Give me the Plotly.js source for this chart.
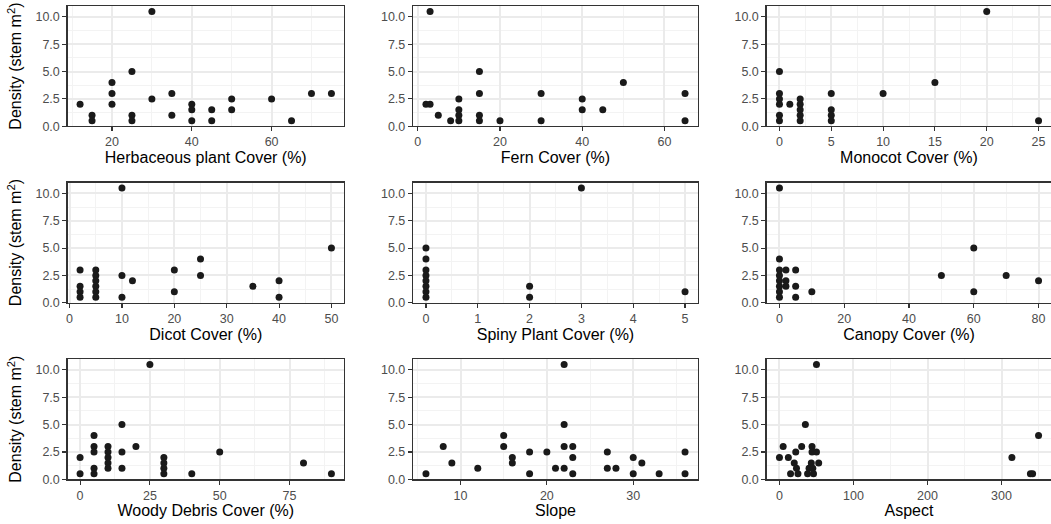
<!DOCTYPE html>
<html><head><meta charset="utf-8">
<script src="https://cdn.plot.ly/plotly-3.0.1.min.js"></script>
<style>html,body{margin:0;padding:0;overflow:hidden;background:#fff}#chart{width:1060px;height:524px}</style>
</head><body><div id="chart"></div><script>
// Data (Density in stem m^2)
const herbCover   = [12, 15, 15, 20, 20, 20, 25, 25, 25, 30, 30, 35, 35, 40, 40, 40, 45, 45, 50, 50, 60, 65, 70, 75];
const herbDensity = [2, 1, 0.5, 4, 3, 2, 5, 1, 0.5, 10.5, 2.5, 3, 1, 2, 1.5, 0.5, 1.5, 0.5, 2.5, 1.5, 2.5, 0.5, 3, 3];

const fernCover   = [2, 3, 3, 5, 8, 10, 10, 10, 10, 15, 15, 15, 15, 20, 30, 30, 40, 40, 45, 50, 65, 65];
const fernDensity = [2, 2, 10.5, 1, 0.5, 2.5, 1.5, 1, 0.5, 5, 3, 1, 0.5, 0.5, 3, 0.5, 2.5, 1.5, 1.5, 4, 3, 0.5];

const monoCover   = [0, 0, 0, 0, 0, 0, 1, 2, 2, 2, 2, 2, 5, 5, 5, 5, 10, 15, 20, 25];
const monoDensity = [5, 3, 2.5, 2, 1, 0.5, 2, 2.5, 2, 1.5, 1, 0.5, 3, 1.5, 1, 0.5, 3, 4, 10.5, 0.5];

const dicotCover   = [2, 2, 2, 2, 5, 5, 5, 5, 5, 5, 10, 10, 10, 12, 20, 20, 25, 25, 35, 40, 40, 50];
const dicotDensity = [3, 1.5, 1, 0.5, 3, 2.5, 2, 1.5, 1, 0.5, 10.5, 2.5, 0.5, 2, 3, 1, 4, 2.5, 1.5, 2, 0.5, 5];

const spinyCover   = [0, 0, 0, 0, 0, 0, 0, 0, 2, 2, 3, 5];
const spinyDensity = [5, 4, 3, 2.5, 2, 1.5, 1, 0.5, 1.5, 0.5, 10.5, 1];

const canopyCover   = [0, 0, 0, 0, 0, 0, 0, 0, 2, 2, 2, 5, 5, 5, 10, 50, 60, 60, 70, 80];
const canopyDensity = [10.5, 4, 3, 2.5, 2, 1.5, 1, 0.5, 3, 2, 1.5, 3, 1.5, 0.5, 1, 2.5, 5, 1, 2.5, 2];

const woodyCover   = [0, 0, 5, 5, 5, 5, 5, 10, 10, 10, 10, 10, 15, 15, 15, 20, 25, 30, 30, 30, 30, 40, 50, 80, 90];
const woodyDensity = [2, 0.5, 4, 3, 2.5, 1, 0.5, 3, 2.5, 2, 1.5, 1, 5, 2.5, 1, 3, 10.5, 2, 1.5, 1, 0.5, 0.5, 2.5, 1.5, 0.5];

const slopeValue   = [6, 8, 9, 12, 15, 15, 16, 16, 18, 18, 20, 21, 22, 22, 22, 22, 23, 23, 23, 27, 27, 28, 30, 30, 31, 33, 36, 36];
const slopeDensity = [0.5, 3, 1.5, 1, 4, 3, 2, 1.5, 2.5, 0.5, 2.5, 1, 10.5, 5, 3, 1, 3, 2, 0.5, 2.5, 1, 1, 2, 0.5, 1.5, 0.5, 2.5, 0.5];

const aspectValue   = [0, 5, 12, 15, 20, 22, 23, 25, 30, 35, 38, 40, 43, 44, 44, 45, 46, 50, 50, 53, 314, 339, 342, 350];
const aspectDensity = [2, 3, 2, 0.5, 1.5, 2.5, 1, 0.5, 3, 5, 0.5, 1, 1.5, 3, 2.5, 1, 0.5, 2.5, 10.5, 1.5, 2, 0.5, 0.5, 4];

const xTitles = ['Herbaceous plant Cover (%)', 'Fern Cover (%)', 'Monocot Cover (%)',
                 'Dicot Cover (%)', 'Spiny Plant Cover (%)', 'Canopy Cover (%)',
                 'Woody Debris Cover (%)', 'Slope', 'Aspect'];
const xSeries = [herbCover, fernCover, monoCover, dicotCover, spinyCover, canopyCover, woodyCover, slopeValue, aspectValue];
const ySeries = [herbDensity, fernDensity, monoDensity, dicotDensity, spinyDensity, canopyDensity, woodyDensity, slopeDensity, aspectDensity];
const xBreaks = [20, 20, 5, 10, 1, 20, 25, 10, 100];
const yTitle = 'Density (stem m<sup>2</sup>)';

// Layout geometry (pixels)
const W = 1060, H = 524;
const colPx = [[67.5, 344], [413, 698], [766.5, 1051.5]];
const rowPx = [[6, 126.2], [182.5, 302.7], [359, 479.3]];

function expand(arr) {
  const mn = Math.min(...arr), mx = Math.max(...arr);
  const pad = (mx - mn) * 0.05;
  return [mn - pad, mx + pad];
}

const tickFont = {family: 'Liberation Sans, Arial, sans-serif', size: 12.5, color: '#4D4D4D'};
const titleFont = {family: 'Liberation Sans, Arial, sans-serif', size: 16, color: '#000000'};

const traces = [];
const layout = {
  width: W, height: H,
  margin: {l: 0, r: 0, t: 0, b: 0},
  paper_bgcolor: '#FFFFFF', plot_bgcolor: '#FFFFFF',
  showlegend: false
};

for (let i = 0; i < 9; i++) {
  const r = Math.floor(i / 3), c = i % 3;
  const sfx = i === 0 ? '' : String(i + 1);
  traces.push({
    type: 'scatter', mode: 'markers',
    x: xSeries[i], y: ySeries[i],
    xaxis: 'x' + sfx, yaxis: 'y' + sfx,
    marker: {size: 7, color: '#1A1A1A'},
    hoverinfo: 'skip'
  });
  const common = {
    showline: true, mirror: true, linecolor: '#333333', linewidth: 1.2,
    ticks: 'outside', ticklen: 4, tickwidth: 1.1, tickcolor: '#333333',
    tickfont: tickFont, zeroline: false,
    showgrid: true, gridcolor: '#EBEBEB', gridwidth: 2,
    fixedrange: true
  };
  layout['xaxis' + sfx] = Object.assign({}, common, {
    domain: [colPx[c][0] / W, colPx[c][1] / W],
    anchor: 'y' + sfx,
    range: expand(xSeries[i]),
    tick0: 0, dtick: xBreaks[i],
    minor: {dtick: xBreaks[i] / 2, showgrid: true, gridcolor: '#F3F3F3', gridwidth: 1, ticks: ''},
    title: {text: xTitles[i], font: titleFont, standoff: 3}
  });
  const yax = Object.assign({}, common, {
    domain: [1 - rowPx[r][1] / H, 1 - rowPx[r][0] / H],
    anchor: 'x' + sfx,
    range: expand(ySeries[i]),
    tick0: 0, dtick: 2.5, tickformat: '.1f',
    minor: {dtick: 1.25, showgrid: true, gridcolor: '#F3F3F3', gridwidth: 1, ticks: ''}
  });
  if (c === 0) yax.title = {text: yTitle, font: titleFont, standoff: 9};
  layout['yaxis' + sfx] = yax;
}

Plotly.newPlot('chart', traces, layout, {staticPlot: true, displayModeBar: false});
</script></body></html>
